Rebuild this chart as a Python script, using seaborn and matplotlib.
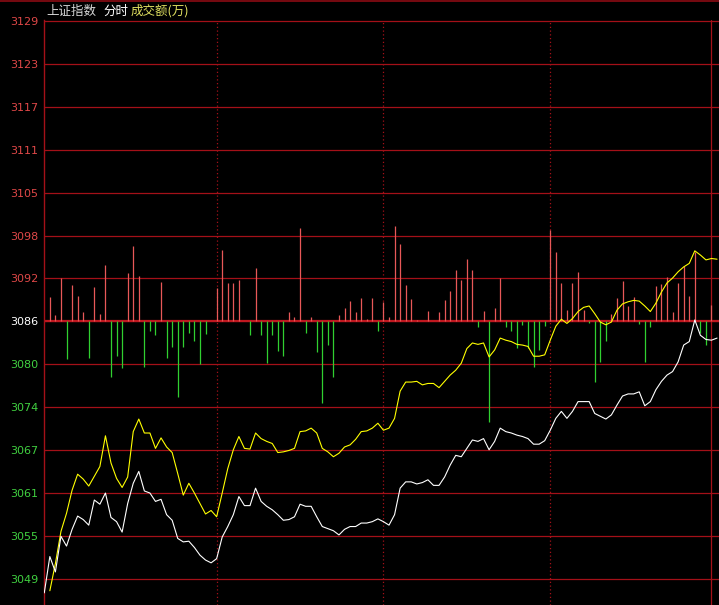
import numpy as np
import pandas as pd
import matplotlib
matplotlib.use('Agg')
import matplotlib.pyplot as plt
from matplotlib.lines import Line2D
import seaborn as sns

# previous close (centre line) and grid step in index points
prev_close = 3086.3
grid_step = 6.143

tick_steps = [7, 6, 5, 4, 3, 2, 1, 0, -1, -2, -3, -4, -5, -6]
tick_labels = ['3129', '3123', '3117', '3111', '3105', '3098', '3092',
               '3086', '3080', '3074', '3067', '3061', '3055', '3049']

# index price (white), one point every 2 minutes, starting at i=0
white = [3047.4, 3052.6, 3050.4, 3055.5, 3054.1, 3056.5, 3058.4, 3057.9, 3057.1, 3060.7,
         3060.1, 3061.7, 3058.2, 3057.6, 3056.1, 3060.2, 3063.1, 3064.8, 3062.0, 3061.7,
         3060.5, 3060.8, 3058.6, 3057.8, 3055.2, 3054.7, 3054.8, 3053.9, 3052.8, 3052.1,
         3051.7, 3052.3, 3055.4, 3056.9, 3058.6, 3061.2, 3059.9, 3059.9, 3062.4, 3060.5,
         3059.8, 3059.3, 3058.6, 3057.8, 3057.9, 3058.3, 3060.1, 3059.8, 3059.8, 3058.3,
         3056.9, 3056.6, 3056.3, 3055.7, 3056.5, 3056.9, 3056.9, 3057.4, 3057.4, 3057.6,
         3058.0, 3057.6, 3057.1, 3058.6, 3062.4, 3063.3, 3063.3, 3063.0, 3063.2, 3063.6,
         3062.8, 3062.8, 3064.0, 3065.7, 3067.1, 3066.9, 3068.1, 3069.3, 3069.1, 3069.5,
         3067.9, 3069.1, 3071.0, 3070.5, 3070.3, 3070.0, 3069.8, 3069.5, 3068.7, 3068.7,
         3069.2, 3070.7, 3072.4, 3073.4, 3072.4, 3073.4, 3074.8, 3074.8, 3074.8, 3073.1,
         3072.7, 3072.3, 3072.9, 3074.3, 3075.6, 3075.9, 3075.9, 3076.2, 3074.2, 3074.8,
         3076.5, 3077.7, 3078.6, 3079.1, 3080.5, 3082.9, 3083.4, 3086.5, 3084.3, 3083.7,
         3083.6, 3083.9]

# yellow line, starts at i=1
yellow = [3047.7, 3051.6, 3056.2, 3058.8, 3062.1, 3064.4, 3063.7, 3062.7, 3064.1, 3065.5,
          3069.9, 3066.0, 3063.8, 3062.5, 3064.0, 3070.5, 3072.3, 3070.3, 3070.3, 3068.1,
          3069.6, 3068.3, 3067.5, 3064.5, 3061.4, 3063.1, 3061.7, 3060.2, 3058.7, 3059.2,
          3058.3, 3061.7, 3065.2, 3067.9, 3069.8, 3068.1, 3068.0, 3070.3, 3069.5, 3069.1,
          3068.8, 3067.5, 3067.6, 3067.8, 3068.1, 3070.5, 3070.6, 3071.0, 3070.3, 3068.1,
          3067.6, 3066.9, 3067.4, 3068.3, 3068.6, 3069.4, 3070.5, 3070.6, 3071.0, 3071.7,
          3070.7, 3071.0, 3072.4, 3076.3, 3077.6, 3077.6, 3077.7, 3077.2, 3077.4, 3077.4,
          3076.8, 3077.7, 3078.6, 3079.3, 3080.3, 3082.4, 3083.2, 3083.0, 3083.2, 3081.2,
          3082.2, 3083.9, 3083.6, 3083.4, 3083.0, 3082.9, 3082.7, 3081.3, 3081.3, 3081.5,
          3083.6, 3085.6, 3086.6, 3086.0, 3086.7, 3087.7, 3088.3, 3088.5, 3087.4, 3086.2,
          3085.8, 3086.2, 3087.9, 3088.8, 3089.1, 3089.3, 3089.2, 3088.5, 3087.7, 3088.9,
          3090.5, 3091.8, 3092.5, 3093.4, 3094.1, 3094.6, 3096.4, 3095.8, 3095.1, 3095.3,
          3095.2]

# red/green bars around the centre line, starts at i=1
bars = [3.43, 0.9, 6.15, -5.45, 5.2, 3.62, 1.28, -5.21, 4.96, 1.04,
        8.06, -7.94, -4.97, -6.74, 6.96, 10.79, 6.49, -6.5, -1.35, -1.97,
        5.58, -5.31, -3.64, -10.8, -3.64, -1.73, -2.78, -6.12, -1.82, 0.0,
        4.72, 10.21, 5.53, 5.55, 5.91, 0.0, -1.97, 7.68, -1.97, -6.02,
        -1.97, -4.21, -4.97, 1.38, 0.57, 13.32, -1.73, 0.66, -4.35, -11.66,
        -3.4, -7.94, 0.9, 1.95, 2.95, 1.38, 3.38, 0.28, 3.38, -1.39,
        2.81, 0.66, 13.7, 11.07, 5.2, 3.19, 0.2, 0.0, 1.52, 0.0,
        1.38, 3.05, 4.34, 7.35, 5.91, 8.92, 7.35, -0.77, 1.52, -14.38,
        1.85, 6.15, -0.87, -1.35, -3.78, -0.53, -3.88, -6.5, -4.11, -0.68,
        13.08, 9.88, 5.53, 1.62, 5.53, 7.11, 1.62, -0.3, -8.65, -5.79,
        -2.78, 1.04, 3.29, 5.77, 2.19, 3.43, -0.4, -5.79, -0.77, 5.1,
        5.34, 6.3, 1.38, 5.53, 7.9, 3.62, 9.97, -1.73, -3.4, 2.33]

hour_marks = [31, 61, 91]

grid_red = '#a41018'

sns.set_style('dark', {'axes.facecolor': 'black', 'figure.facecolor': 'black'})
plt.rcParams['font.family'] = ['Noto Sans CJK SC', 'DejaVu Sans']

fig = plt.figure(figsize=(7.19, 6.05), dpi=100)
ax = fig.add_axes([44 / 719, 0, 675 / 719, 585 / 605])
ax.set_facecolor('black')

df_w = pd.DataFrame({'i': np.arange(len(white)), 'v': white})
df_y = pd.DataFrame({'i': np.arange(1, len(yellow) + 1), 'v': yellow})
bar_x = np.arange(1, len(bars) + 1)
bar_v = np.array(bars)

# grid
ticks = [prev_close + k * grid_step for k in tick_steps]
for t in ticks:
    ax.axhline(t, color=grid_red, lw=0.9, zorder=1)
ax.axhline(prev_close, color='#c01820', lw=1.6, zorder=1)
for m in hour_marks:
    ax.axvline(m, color=grid_red, lw=0.9, ls=(0, (1, 2)), zorder=1)
ax.axvline(119.85, color=grid_red, lw=0.9, zorder=1)

# bars
up = bar_v >= 0
ax.vlines(bar_x[up], prev_close, prev_close + bar_v[up], color='#e85858', lw=0.9, zorder=2)
ax.vlines(bar_x[~up], prev_close, prev_close + bar_v[~up], color='#30d030', lw=0.9, zorder=2)

# lines
sns.lineplot(data=df_y, x='i', y='v', color='#ffff00', lw=0.8, ax=ax, zorder=3)
sns.lineplot(data=df_w, x='i', y='v', color='#ffffff', lw=0.8, ax=ax, zorder=4)

ax.set_xlim(-0.05, 121.35)
ax.set_ylim(3045.66, 3129.47)
ax.set_xlabel('')
ax.set_ylabel('')
ax.set_xticks([])
ax.set_yticks(ticks)
ax.set_yticklabels(tick_labels, fontsize=8, family='DejaVu Sans')
for lab, k in zip(ax.get_yticklabels(), tick_steps):
    if k > 0:
        lab.set_color('#e04848')
    elif k == 0:
        lab.set_color('#ffffff')
    else:
        lab.set_color('#40d040')
ax.tick_params(axis='y', length=0, pad=4)
ax.grid(False)
for side in ['top', 'right', 'bottom']:
    ax.spines[side].set_visible(False)
ax.spines['left'].set_color(grid_red)
ax.spines['left'].set_linewidth(1.0)

# top frame line and title strip
fig.add_artist(Line2D([0, 1], [1 - 0.8 / 605, 1 - 0.8 / 605], color='#8c0c14', lw=1.2))
fig.text(46 / 719, 1 - 11 / 605, '上证指数', color='#d8d8d8', fontsize=9, va='center')
fig.text(103 / 719, 1 - 11 / 605, '分时', color='#ffffff', fontsize=9, va='center')
fig.text(131 / 719, 1 - 11 / 605, '成交额(万)', color='#e0e060', fontsize=9, va='center')

fig.savefig('out.png', dpi=100, facecolor='black')
